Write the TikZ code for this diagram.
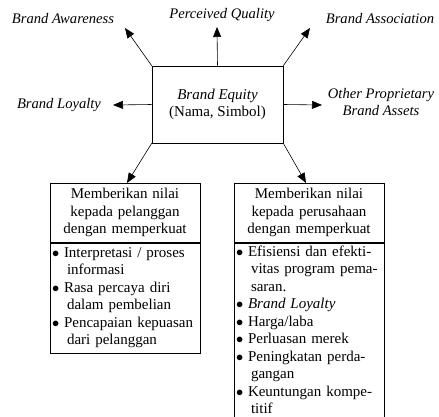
\documentclass[tikz,border=0pt]{standalone}
\usepackage{fontspec}
\setmainfont{Liberation Serif}
\usetikzlibrary{arrows.meta,positioning}
\newcommand{\bul}{\makebox[11pt][l]{\hspace*{-1pt}$\bullet$}}
\newcommand{\cnt}{\hspace*{14pt}}
\begin{document}
\begin{tikzpicture}[
                x=1pt, y=-1pt,
                line width=0.6pt,
                every node/.style={font=\fontsize{15}{17.5}\selectfont},
                lbl/.style={font=\fontsize{14.6}{17}\selectfont\itshape, align=center, inner sep=0pt},
                eqbox/.style={draw, minimum width=131pt, minimum height=77pt, align=center},
                head/.style={draw, text width=144pt, inner xsep=3pt, minimum height=59pt, align=center},
                body/.style={draw, text width=144pt, inner xsep=3pt, inner ysep=3pt, align=left},
                arr/.style={-{Triangle[length=10pt,width=8pt]}},
            ]
            \useasboundingbox (0,0) rectangle (439,417);
            \clip (0,0) rectangle (439,417);
            % centre box
            \node[eqbox] (equity) at (217.5,104.5) {\textit{Brand Equity}\\(Nama, Simbol)};
            % dimensions
            \node[lbl] (awareness) at (63,19) {Brand Awareness};
            \node[lbl] (quality) at (222,15) {Perceived Quality};
            \node[lbl] (association) at (380,19) {Brand Association};
            \node[lbl] (loyalty) at (59,105) {Brand Loyalty};
            \node[lbl] (other) at (381,102) {Other Proprietary\\Brand Assets};
            \coordinate (awtip) at (125,28);
            \coordinate (qutip) at (217,27);
            \coordinate (astip) at (310,28);
            \coordinate (lotip) at (113,105);
            \coordinate (ottip) at (322,105);
            \draw[arr] (equity.north west) -- (awtip);
            \draw[arr] (equity.north) -- (qutip);
            \draw[arr] (equity.north east) -- (astip);
            \draw[arr] (equity.west) -- (lotip);
            \draw[arr] (equity.east) -- (ottip);
            % value boxes
            \node[head, anchor=north] (lhead) at (125,183) {Memberikan nilai\\kepada pelanggan\\dengan memperkuat};
            \node[body, below=0pt of lhead, minimum height=110pt] (lbody) {\bul Interpretasi / proses\\
                \cnt informasi\\
                \bul Rasa percaya diri\\
                \cnt dalam pembelian\\
                \bul Pencapaian kepuasan\\
                \cnt dari pelanggan};
            \node[head, anchor=north] (rhead) at (309,183) {Memberikan nilai\\kepada perusahaan\\dengan memperkuat};
            \node[body, below=0pt of rhead] (rbody) {\bul Efisiensi dan efekti-\\
                \cnt vitas program pema-\\
                \cnt saran.\\
                \bul \textit{Brand Loyalty}\\
                \bul Harga/laba\\
                \bul Perluasan merek\\
                \bul Peningkatan perda-\\
                \cnt gangan\\
                \bul Keuntungan kompe-\\
                \cnt titif};
            \draw[arr] (equity.south west) -- (lhead.north -| 127,0);
            \draw[arr] (equity.south east) -- (rhead.north -| 306,0);
\end{tikzpicture}
\end{document}
